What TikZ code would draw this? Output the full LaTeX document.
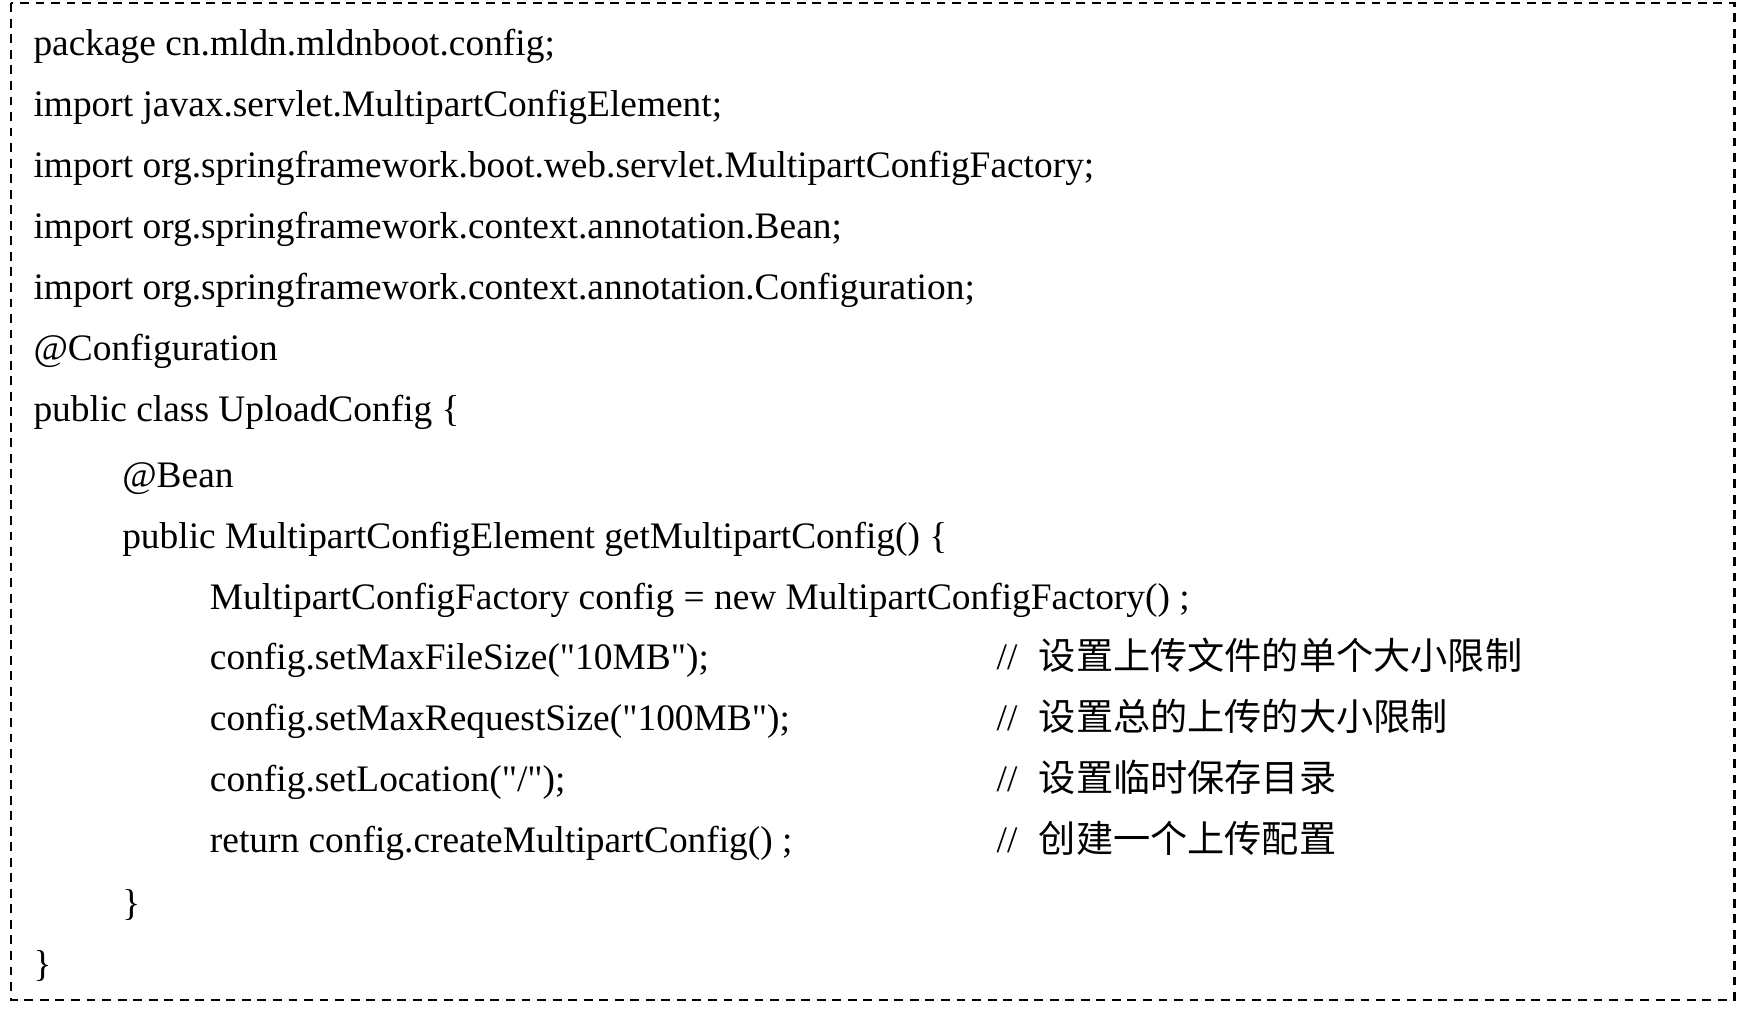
\documentclass[tikz,border=0pt]{standalone}
\usepackage{fontspec}
\setmainfont{Liberation Serif}
\newfontfamily\codefont{Liberation Serif}
\newfontfamily\cjk{Noto Sans CJK SC}
\begin{document}
\begin{tikzpicture}[x=1pt,y=1pt,
  codeline/.style={anchor=base west, inner sep=0pt, font=\codefont\fontsize{33.7}{40}\selectfont},
  cmt/.style={anchor=base west, inner sep=0pt, font=\codefont\fontsize{33.7}{40}\selectfont},
  cmtcn/.style={anchor=base west, inner sep=0pt, font=\cjk\fontsize{33.5}{40}\selectfont},
  frame/.style={draw=black, line width=2pt, dash pattern=on 8pt off 6pt}]
\useasboundingbox (0,0) rectangle (1568,-909);
\draw[frame] (10,-3) rectangle (1563,-901);
\node[codeline] (l1) at (30,-50) {package cn.mldn.mldnboot.config;};
\node[codeline] (l2) at (30,-105) {import javax.servlet.MultipartConfigElement;};
\node[codeline] (l3) at (30,-160) {import org.springframework.boot.web.servlet.MultipartConfigFactory;};
\node[codeline] (l4) at (30,-215) {import org.springframework.context.annotation.Bean;};
\node[codeline] (l5) at (30,-270) {import org.springframework.context.annotation.Configuration;};
\node[codeline] (l6) at (30,-325) {@Configuration};
\node[codeline] (l7) at (30,-380) {public class UploadConfig \{};
\node[codeline] (l8) at (110,-439) {@Bean};
\node[codeline] (l9) at (110,-494) {public MultipartConfigElement getMultipartConfig() \{};
\node[codeline] (l10) at (189,-549) {MultipartConfigFactory config = new MultipartConfigFactory() ;};
\node[codeline] (l11) at (189,-603) {config.setMaxFileSize("10MB");};
\node[codeline] (l12) at (189,-658) {config.setMaxRequestSize("100MB");};
\node[codeline] (l13) at (189,-713) {config.setLocation("/");};
\node[codeline] (l14) at (189,-768) {return config.createMultipartConfig() ;};
\node[codeline] (l15) at (110,-825) {\}};
\node[codeline] (l16) at (30,-880) {\}};
\node[cmt] (s11) at (898,-603) {//};
\node[cmt] (s12) at (898,-658) {//};
\node[cmt] (s13) at (898,-713) {//};
\node[cmt] (s14) at (898,-768) {//};
\node[cmtcn] (c11) at (936,-603) {设置上传文件的单个大小限制};
\node[cmtcn] (c12) at (936,-658) {设置总的上传的大小限制};
\node[cmtcn] (c13) at (936,-713) {设置临时保存目录};
\node[cmtcn] (c14) at (936,-768) {创建一个上传配置};
\end{tikzpicture}
\end{document}
